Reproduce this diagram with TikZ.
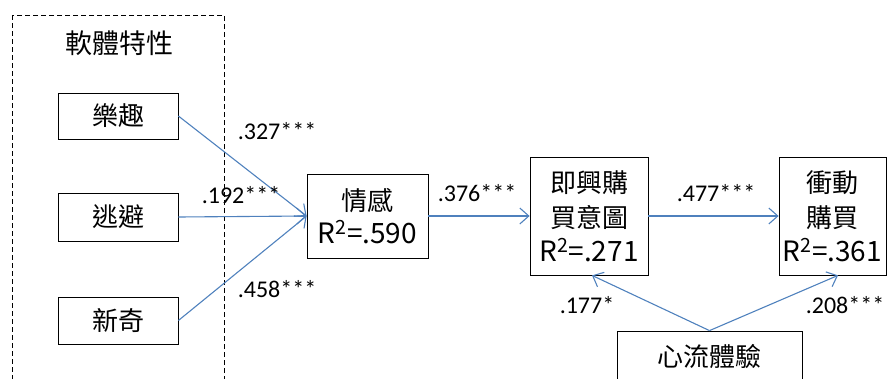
\documentclass[tikz,border=0pt]{standalone}
\usepackage{fontspec}
\setmainfont{Carlito}
\newfontfamily\cjk{Noto Sans CJK TC}
\usetikzlibrary{arrows.meta,calc}
\definecolor{lineblue}{RGB}{79,129,189}
\newcommand{\rsq}[1]{{\fontsize{28}{35}\selectfont R\textsuperscript{2}=#1}}
\tikzset{
  box/.style={draw=black, line width=0.8pt, rectangle, inner sep=0pt, align=center,
    font=\fontsize{26}{35}\selectfont\cjk},
  conn/.style={draw=lineblue, line width=1.1pt, -{Straight Barb[length=9pt,width=16pt,line width=1.1pt]}},
  lbl/.style={font=\fontsize{24}{26}\selectfont, inner sep=0pt},
  ctext/.style={font=\fontsize{26}{35}\selectfont\cjk},
}
\begin{document}
\begin{tikzpicture}[x=1pt,y=-1pt]
\useasboundingbox (0,0) rectangle (888,378);
\clip (0,0) rectangle (888,378);
% dashed group
\draw[line width=0.9pt, dash pattern=on 5pt off 3pt] (12,15) rectangle (224,400);
\node[ctext, font=\fontsize{27}{30}\selectfont\cjk] (title) at (119,43) {軟體特性};
% left boxes
\node[box, minimum width=120pt, minimum height=46pt] (le) at (118,116) {樂趣};
\node[box, minimum width=120pt, minimum height=48pt] (tb) at (118,217) {逃避};
\node[box, minimum width=120pt, minimum height=47pt] (xq) at (118,320.5) {新奇};
% middle
\node[box, minimum width=121pt, minimum height=84pt] (qg) at (367.5,216)
  {情感\\[-2pt]\rsq{.590}};
\node[box, minimum width=118pt, minimum height=118pt] (jx) at (589,216)
  {即興購\\買意圖\\[-1pt]\rsq{.271}};
\node[box, minimum width=107pt, minimum height=118pt] (cd) at (832.5,216)
  {衝動\\購買\\[-1pt]\rsq{.361}};
\node[box, minimum width=185pt, minimum height=58pt] (xl) at (709.5,360) {};
\node[ctext] (xlt) at (709.5,357) {心流體驗};
% connectors
\draw[conn] (le.east) -- (qg.west);
\draw[conn] (tb.east) -- (qg.west);
\draw[conn] (xq.east) -- (qg.west);
\draw[conn] (qg.east) -- (jx.west);
\draw[conn] (jx.east) -- (cd.west);
\draw[conn] (xl.north) -- ($(jx.south)+(3,0)$);
\draw[conn] (xl.north) -- ($(cd.south)+(5.5,0)$);
% labels
\node[lbl] (l1) at (277,131) {.327***};
\node[lbl] (l2) at (241,195) {.192***};
\node[lbl] (l3) at (277,289) {.458***};
\node[lbl] (l4) at (477,193) {.376***};
\node[lbl] (l5) at (716,193) {.477***};
\node[lbl] (l6) at (587,305) {.177*};
\node[lbl] (l7) at (845,305) {.208***};
\end{tikzpicture}
\end{document}
